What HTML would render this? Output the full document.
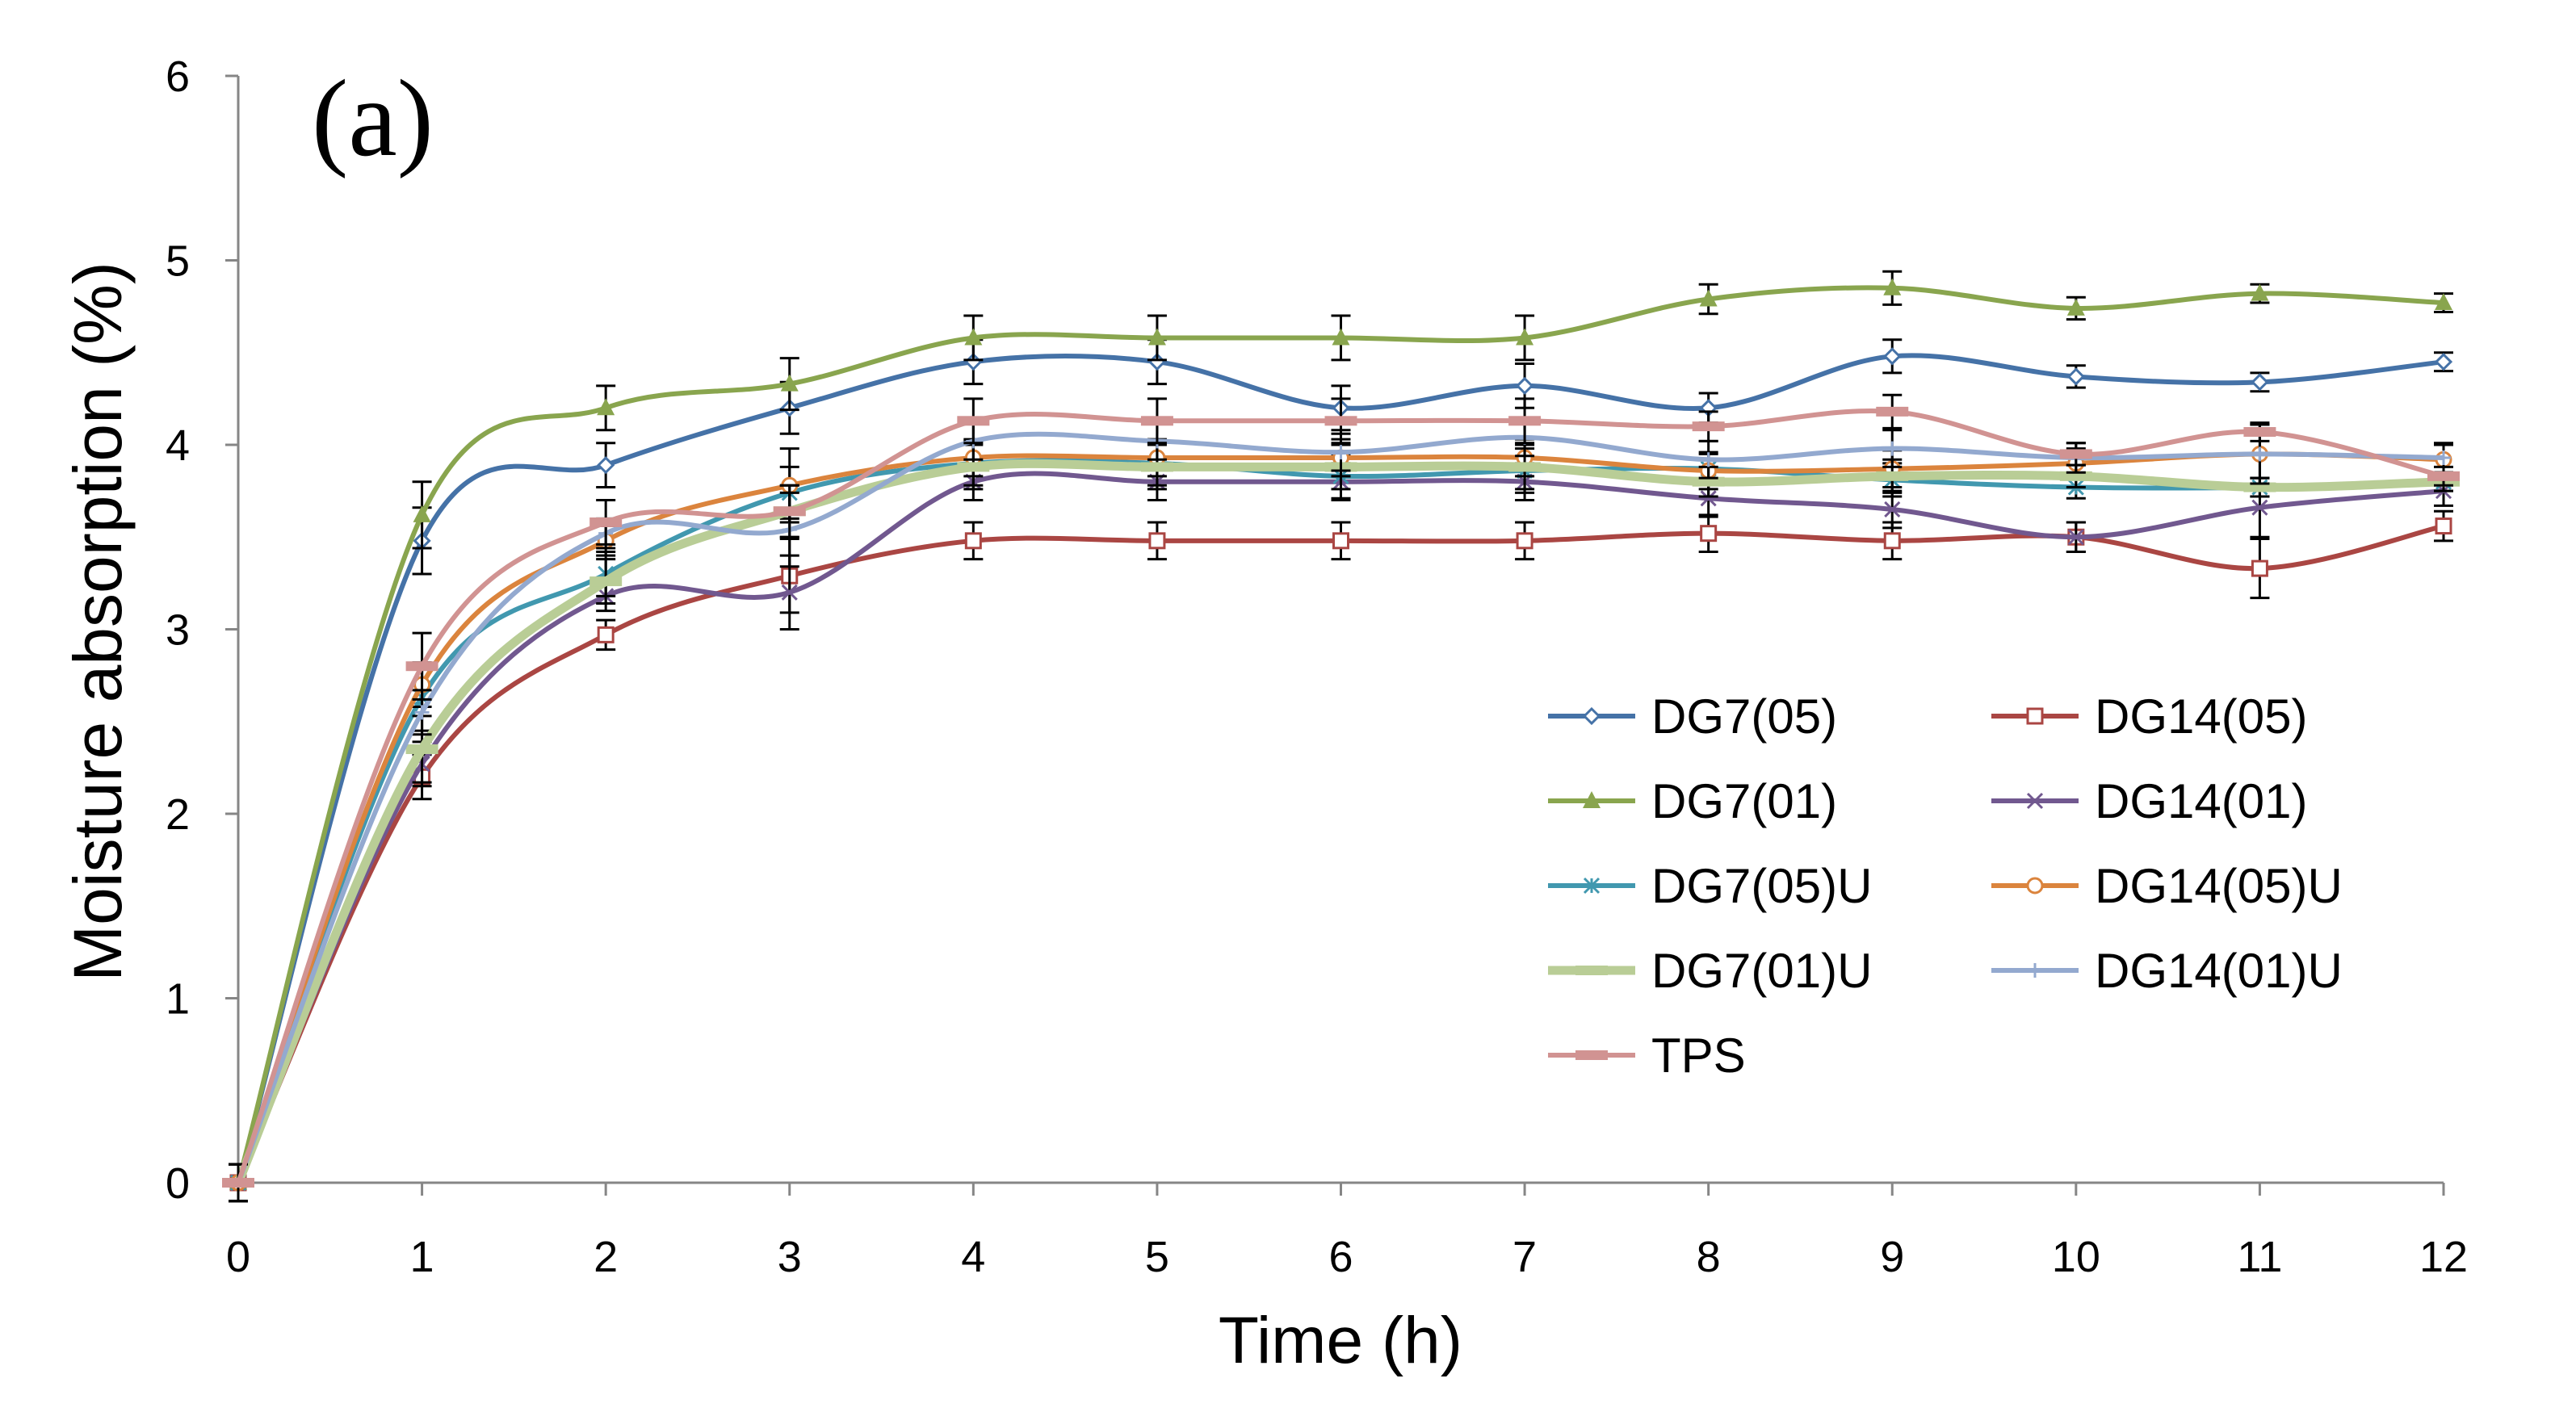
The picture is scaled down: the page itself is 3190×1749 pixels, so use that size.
<!DOCTYPE html>
<html><head><meta charset="utf-8">
<style>
html,body{margin:0;padding:0;background:#fff;}
svg{display:block;}
text{font-family:"Liberation Sans",sans-serif;}
</style></head>
<body>
<svg id="chart" width="3190" height="1749" viewBox="0 0 3190 1749" xmlns="http://www.w3.org/2000/svg">
<rect width="3190" height="1749" fill="#fff"/>
<g id="axes"></g>
<g id="series"></g>
<g id="legend"></g>
<text x="386" y="192" font-size="136" style="font-family:'Liberation Serif',serif">(a)</text>
<text x="1660" y="1688" font-size="82" text-anchor="middle">Time (h)</text>
<text transform="translate(150,770) rotate(-90)" font-size="84" text-anchor="middle">Moisture absorption (%)</text>
</svg>
<script>
const hours = [0,1,2,3,4,5,6,7,8,9,10,11,12];
const yTicks = [0,1,2,3,4,5,6];
const seriesNames = ["DG7(05)","DG14(05)","DG7(01)","DG14(01)","DG7(05)U","DG14(05)U","DG7(01)U","DG14(01)U","TPS"];
const dg7_05 = [0,3.48,3.89,4.2,4.45,4.45,4.2,4.32,4.2,4.48,4.37,4.34,4.45];
const dg14_05 = [0,2.2,2.97,3.29,3.48,3.48,3.48,3.48,3.52,3.48,3.5,3.33,3.56];
const dg7_01 = [0,3.62,4.2,4.33,4.58,4.58,4.58,4.58,4.79,4.85,4.74,4.82,4.77];
const dg14_01 = [0,2.27,3.18,3.2,3.8,3.8,3.8,3.8,3.71,3.65,3.5,3.66,3.75];
const dg7_05u = [0,2.63,3.3,3.74,3.9,3.9,3.83,3.86,3.87,3.81,3.77,3.77,3.8];
const dg14_05u = [0,2.7,3.48,3.78,3.93,3.93,3.93,3.93,3.86,3.87,3.9,3.95,3.92];
const dg7_01u = [0,2.35,3.26,3.64,3.88,3.88,3.88,3.88,3.8,3.83,3.83,3.77,3.8];
const dg14_01u = [0,2.55,3.52,3.54,4.02,4.02,3.96,4.04,3.92,3.98,3.93,3.95,3.93];
const tps = [0,2.8,3.58,3.64,4.13,4.13,4.13,4.13,4.1,4.18,3.95,4.07,3.83];
const errA = [0.1,0.18,0.12,0.14,0.12,0.12,0.12,0.12,0.08,0.09,0.06,0.05,0.05];
const errB = [0.1,0.12,0.08,0.2,0.1,0.1,0.1,0.1,0.1,0.1,0.08,0.16,0.08];

const X0=295,X1=3026,Y0=1465,Y6=94;
const xs=h=>X0+(X1-X0)*h/12;
const ys=v=>Y0-(Y0-Y6)*v/6;
const NS="http://www.w3.org/2000/svg";
function mk(tag,attrs,parent){const e=document.createElementNS(NS,tag);for(const k in attrs)e.setAttribute(k,attrs[k]);parent.appendChild(e);return e;}

const axes=document.getElementById('axes');
let yl=mk('line',{x1:X0,y1:Y6,x2:X0,y2:Y0,stroke:'#868686','stroke-width':3},axes);


let xl=mk('line',{x1:X0,y1:Y0,x2:X1,y2:Y0,stroke:'#868686','stroke-width':3},axes);


yTicks.forEach(t=>{
  const tk=mk('line',{x1:X0-16,y1:ys(t),x2:X0,y2:ys(t),stroke:'#868686','stroke-width':3},axes);
  
  
  const tx=mk('text',{x:X0-60,y:ys(t)+19,'font-size':54,'text-anchor':'end'},axes);
  tx.textContent=t;
  
  
});
hours.forEach(h=>{
  const tk=mk('line',{x1:xs(h),y1:Y0,x2:xs(h),y2:Y0+16,stroke:'#868686','stroke-width':3},axes);
  
  
  const tx=mk('text',{x:xs(h),y:Y0+110,'font-size':54,'text-anchor':'middle'},axes);
  tx.textContent=h;
  
  
});

const seriesData=[dg7_05,dg14_05,dg7_01,dg14_01,dg7_05u,dg14_05u,dg7_01u,dg14_01u,tps];
const colors=['#4572A7','#AA4643','#89A54E','#71588F','#4198AF','#DB843D','#B9CD96','#93A9CF','#D19392'];
const widths=[6,6,6,6,6,6,11,6,6];
const markers=['diamond','square','triangle','x','star','circle','dash','plus','dash'];
const errs=[errA,errB,errA,errB,errA,errB,errA,errB,errA];

function smooth(pts){
  let d=`M${pts[0][0]},${pts[0][1]}`;
  for(let i=0;i<pts.length-1;i++){
    const p0=pts[Math.max(0,i-1)],p1=pts[i],p2=pts[i+1],p3=pts[Math.min(pts.length-1,i+2)];
    const c1=[p1[0]+(p2[0]-p0[0])/6,p1[1]+(p2[1]-p0[1])/6];
    const c2=[p2[0]-(p3[0]-p1[0])/6,p2[1]-(p3[1]-p1[1])/6];
    d+=` C${c1[0]},${c1[1]} ${c2[0]},${c2[1]} ${p2[0]},${p2[1]}`;
  }
  return d;
}
function marker(type,x,y,c,g){
  const s=9;let e;
  if(type==='diamond')e=mk('path',{d:`M${x},${y-s}L${x+s},${y}L${x},${y+s}L${x-s},${y}Z`,fill:'#fff',stroke:c,'stroke-width':3},g);
  else if(type==='square')e=mk('rect',{x:x-s,y:y-s,width:2*s,height:2*s,fill:'#fff',stroke:c,'stroke-width':3},g);
  else if(type==='triangle')e=mk('path',{d:`M${x},${y-12}L${x+11},${y+9}L${x-11},${y+9}Z`,fill:c},g);
  else if(type==='x')e=mk('path',{d:`M${x-s},${y-s}L${x+s},${y+s}M${x+s},${y-s}L${x-s},${y+s}`,stroke:c,'stroke-width':3},g);
  else if(type==='star')e=mk('path',{d:`M${x-s},${y-s}L${x+s},${y+s}M${x+s},${y-s}L${x-s},${y+s}M${x},${y-s}L${x},${y+s}`,stroke:c,'stroke-width':3},g);
  else if(type==='circle')e=mk('circle',{cx:x,cy:y,r:s,fill:'#fff',stroke:c,'stroke-width':3},g);
  else if(type==='plus')e=mk('path',{d:`M${x-s},${y}L${x+s},${y}M${x},${y-s}L${x},${y+s}`,stroke:c,'stroke-width':3},g);
  else e=mk('rect',{x:x-20,y:y-6,width:40,height:12,fill:c},g);
  return e;
}
const sg=document.getElementById('series');
seriesData.forEach((vals,si)=>{
  const g=mk('g',{},sg);
  
  
  hours.forEach((h,i)=>{
    const e=errs[si][i];
    const eb=mk('path',{d:`M${xs(h)},${ys(vals[i]-e)}L${xs(h)},${ys(vals[i]+e)}M${xs(h)-12},${ys(vals[i]-e)}L${xs(h)+12},${ys(vals[i]-e)}M${xs(h)-12},${ys(vals[i]+e)}L${xs(h)+12},${ys(vals[i]+e)}`,stroke:'#000','stroke-width':3,fill:'none'},g);
    
    
  });
  const pts=hours.map((h,i)=>[xs(h),ys(vals[i])]);
  const p=mk('path',{d:smooth(pts),fill:'none',stroke:colors[si],'stroke-width':widths[si],'stroke-linejoin':'round'},g);
  
  
  pts.forEach(pt=>{
    const m=marker(markers[si],pt[0],pt[1],colors[si],g);
    
    
  });
});

const lg=document.getElementById('legend');
seriesNames.forEach((n,i)=>{
  const col=i%2,row=Math.floor(i/2);
  const lx=col?2466:1917, ly=887+row*105;
  const g=mk('g',{},lg);
  
  
  mk('line',{x1:lx,y1:ly,x2:lx+108,y2:ly,stroke:colors[i],'stroke-width':widths[i]},g);
  marker(markers[i],lx+54,ly,colors[i],g);
  const t=mk('text',{x:lx+128,y:ly+21,'font-size':60},g);
  t.textContent=n;
});
</script>
</body></html>
